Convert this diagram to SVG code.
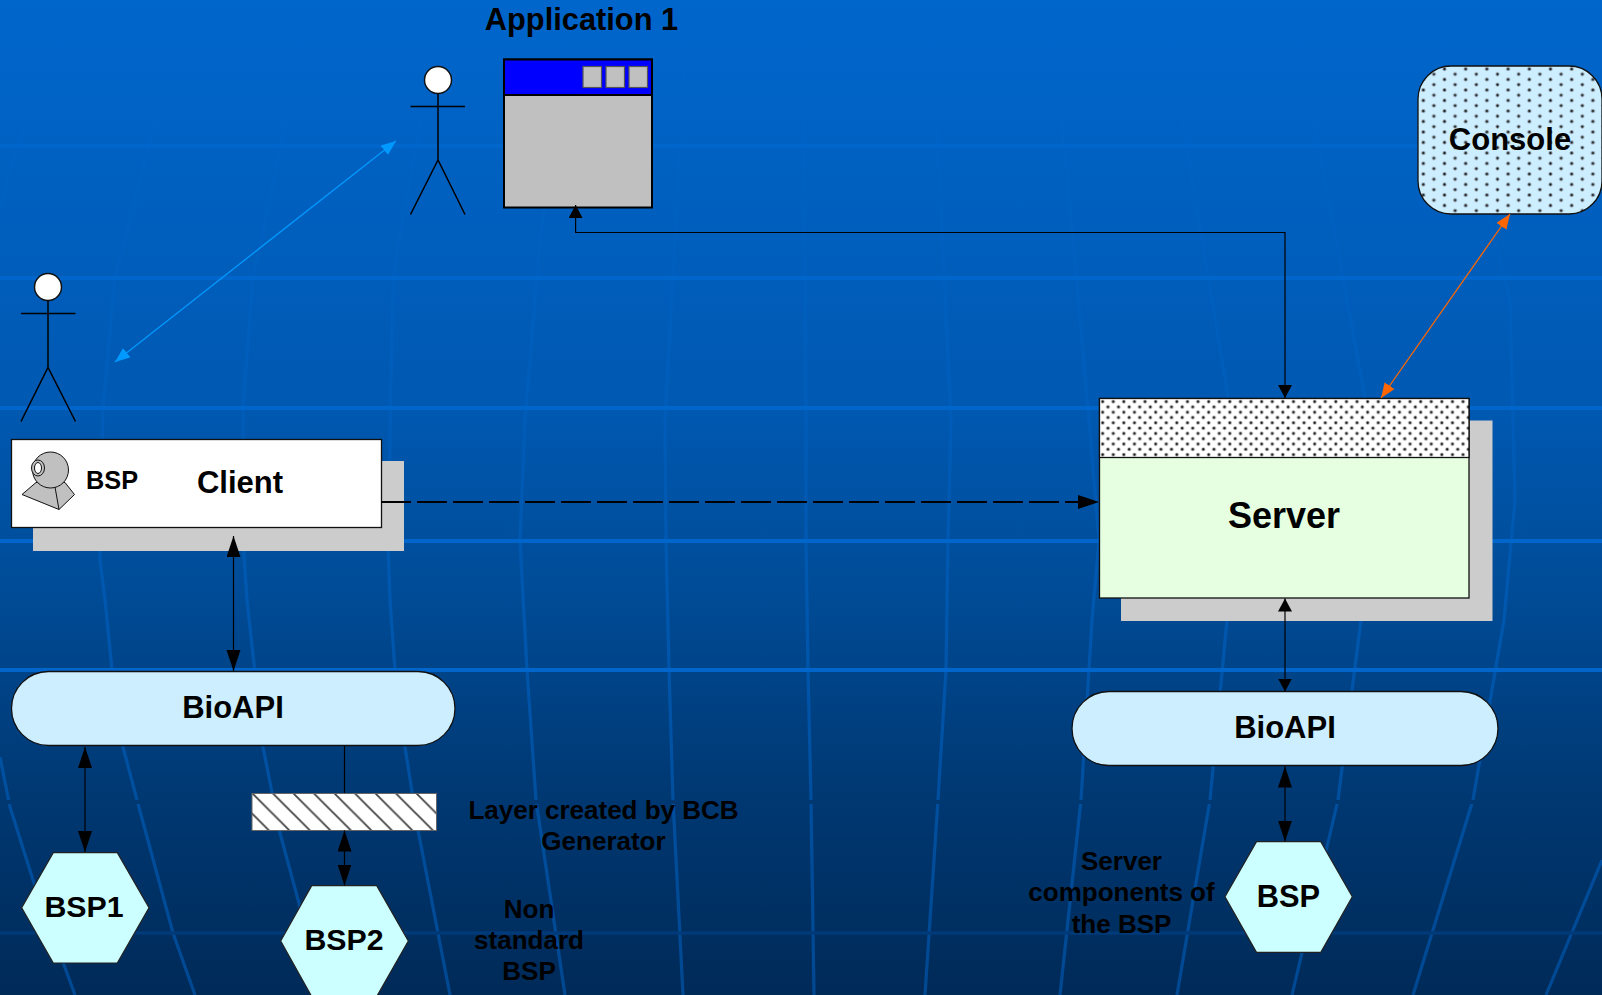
<svg xmlns="http://www.w3.org/2000/svg" width="1602" height="995" viewBox="0 0 1602 995">
<style>
text{font-family:"Liberation Sans",Arial,sans-serif;font-weight:bold;fill:#000;text-anchor:middle}
.hl{stroke:#0066cc;stroke-width:4;fill:none}
.vl{stroke:url(#vg);stroke-width:3.2;fill:none;stroke-linejoin:round}
.ln{stroke:#000;stroke-width:1.2;fill:none}
.nd{stroke:#111;stroke-width:1.3}
.act{stroke:#000;stroke-width:1.5;fill:none}
.shadow{fill:#cccccc}
.hex{fill:#ccffff;stroke:#222;stroke-width:1.2}
.api{fill:#cceeff;stroke:#111;stroke-width:1.3}
.btn{fill:#c0c0c0;stroke:#555;stroke-width:1.2}
</style>
<defs>
<linearGradient id="bg" gradientUnits="userSpaceOnUse" x1="0" y1="0" x2="0" y2="995">
<stop offset="0" stop-color="#0066cc"/><stop offset=".4" stop-color="#0059b2"/><stop offset=".6" stop-color="#004b96"/><stop offset=".8" stop-color="#003872"/><stop offset="1" stop-color="#002a58"/>
</linearGradient>
<linearGradient id="vg" gradientUnits="userSpaceOnUse" x1="0" y1="0" x2="0" y2="995">
<stop offset="0" stop-color="#0066cc" stop-opacity=".1"/><stop offset=".4" stop-color="#0066cc" stop-opacity=".3"/><stop offset=".65" stop-color="#0066cc" stop-opacity=".5"/><stop offset="1" stop-color="#0066cc" stop-opacity=".5"/>
</linearGradient>
<marker id="big" markerUnits="userSpaceOnUse" markerWidth="22" markerHeight="15" refX="21" refY="7" orient="auto-start-reverse"><path d="M0 0L21 7L0 14Z" fill="#000"/></marker>
<marker id="small" markerUnits="userSpaceOnUse" markerWidth="14" markerHeight="15" refX="13" refY="7" orient="auto-start-reverse"><path d="M0 0L13 7L0 14Z" fill="#000"/></marker>
<marker id="blue" markerUnits="userSpaceOnUse" markerWidth="16" markerHeight="13" refX="15" refY="6" orient="auto-start-reverse"><path d="M0 0L15 6L0 12Z" fill="#0099ff"/></marker>
<marker id="orange" markerUnits="userSpaceOnUse" markerWidth="16" markerHeight="13" refX="15" refY="6" orient="auto-start-reverse"><path d="M0 0L15 6L0 12Z" fill="#ff6600"/></marker>
<pattern id="dotsS" patternUnits="userSpaceOnUse" x="1100" y="399" width="10.6" height="10.6">
<rect width="10.6" height="10.6" fill="#fff"/><circle cx="2.65" cy="2.65" r="2" fill="#aaa"/><circle cx="7.95" cy="7.95" r="2" fill="#aaa"/><circle cx="2.65" cy="2.65" r="1.1" fill="#111"/><circle cx="7.95" cy="7.95" r="1.1" fill="#111"/>
</pattern>
<pattern id="dotsC" patternUnits="userSpaceOnUse" x="1418" y="66" width="21.2" height="10.5">
<rect width="21.2" height="10.5" fill="#cceeff"/><circle cx="5.3" cy="3" r="2" fill="#8a9aa5"/><circle cx="15.9" cy="8.2" r="2" fill="#8a9aa5"/><circle cx="5.3" cy="3" r="1.1" fill="#111"/><circle cx="15.9" cy="8.2" r="1.1" fill="#111"/>
</pattern>
<pattern id="hatch" patternUnits="userSpaceOnUse" x="252" y="793" width="20.5" height="20.5">
<rect width="20.5" height="20.5" fill="#fff"/><path d="M-2 -2L22.5 22.5M-2 18.5L2 22.5M18.5 -2L22.5 2" stroke="#444" stroke-width="1.8" fill="none"/>
</pattern>
</defs>

<g id="background">
<rect width="1602" height="995" fill="url(#bg)"/>
<path class="vl" d="M0 207L25 120L73 17"/>
<path class="vl" d="M167 77L115 277L103 407L100 560L105 600L112 670L123 747L137 800L173 933L195 995"/>
<path class="vl" d="M310 10L253 277L243 407L243 540L247 600L263 747L280 833L300 907L330 995"/>
<path class="vl" d="M440 10L393 277L388 547L390 600L395 670L405 747L418 830L450 995"/>
<path class="vl" d="M570 10L540 240L525 420L520 540L527 670L536 800L565 995"/>
<path class="vl" d="M686 33L665 420L666 540L669 670L673 800L683 995"/>
<path class="vl" d="M803 33L806 420L806 540L808 670L811 800L814 995"/>
<path class="vl" d="M931 0L951 420L948 540L946 670L938 800L925 995"/>
<path class="vl" d="M1053 17L1089 420L1099 540L1092 620L1081 800L1060 995"/>
<path class="vl" d="M1165 17L1232 420L1240 540L1227 620L1210 800L1177 995"/>
<path class="vl" d="M1298 33L1369 420L1372 540L1361 620L1338 800L1292 995"/>
<path class="vl" d="M1440 17L1510 300L1515 500L1504 620L1473 800L1413 995"/>
<path class="vl" d="M1602 860L1546 995"/>
<path class="vl" d="M0 757L10 807L33 880L75 995"/>
<rect x="0" y="800" width="1602" height="4" fill="url(#bg)"/>
<path class="hl" d="M0 146H1602M0 278H1602M0 408H1602M0 541H1602M0 670H1602"/>
<path d="M0 933H1602" stroke="#003a78" stroke-width="3.5" fill="none"/>
</g>

<g id="actor-app"><circle cx="438" cy="80" r="13.5" fill="#fff" stroke="#111" stroke-width="1.5"/><path class="act" d="M438 93.500V160M410.500 106.500H465M410.500 214.500L438 160L465 214.500"/></g>
<g id="actor-client"><circle cx="48" cy="287" r="13.5" fill="#fff" stroke="#111" stroke-width="1.5"/><path class="act" d="M48 300.500V367.500M21 313.500H75.500M21 421.500L48 367.500L75.500 421.500"/></g>

<g id="app-window">
<text x="581.500" y="30" font-size="30.800">Application 1</text>
<rect x="504" y="59.500" width="148" height="148" fill="#c0c0c0" stroke="#000" stroke-width="2"/>
<rect x="504" y="59.500" width="148" height="35.500" fill="#0000ff" stroke="#000" stroke-width="2"/>
<rect class="btn" x="583" y="66.500" width="18.500" height="21"/><rect class="btn" x="606" y="66.500" width="18.500" height="21"/><rect class="btn" x="629" y="66.500" width="18.500" height="21"/>
</g>

<g id="console">
<rect x="1418" y="66" width="184" height="148" rx="33" ry="33" fill="url(#dotsC)" stroke="#111" stroke-width="1.3"/>
<text x="1510" y="150" font-size="31">Console</text>
</g>

<g id="client">
<rect class="shadow" x="33" y="461" width="371" height="90"/>
<rect class="nd" x="11.500" y="439.500" width="370" height="88" fill="#fff"/>
<g stroke="#111" stroke-width="1" fill="#c0c0c0">
<path d="M22 494.500L59 509.500L74.500 494.500L65 482.500L36 482.500Z"/>
<path d="M55 487L59 509.500" fill="none"/>
<circle cx="50.500" cy="470" r="18"/>
<ellipse cx="38" cy="468" rx="6.500" ry="8"/>
<ellipse cx="38" cy="468" rx="3.500" ry="5.500" fill="#fff"/>
</g>
<text x="112" y="488.500" font-size="25.300">BSP</text>
<text x="240" y="493" font-size="31">Client</text>
</g>

<g id="server">
<rect class="shadow" x="1121" y="420.500" width="371.500" height="200.500"/>
<rect class="nd" x="1099.500" y="398.500" width="369.500" height="199.500" fill="#e5ffe0"/>
<rect class="nd" x="1099.500" y="398.500" width="369.500" height="59" fill="url(#dotsS)"/>
<text x="1284" y="527.500" font-size="36">Server</text>
</g>

<g id="bioapi-client"><rect class="api" x="11.500" y="671.500" width="443.500" height="74" rx="37"/><text x="233" y="717.500" font-size="31">BioAPI</text></g>
<g id="bioapi-server"><rect class="api" x="1072" y="691.500" width="426" height="74" rx="37"/><text x="1285" y="737.500" font-size="31">BioAPI</text></g>

<g id="bcb-layer"><rect x="252" y="793.500" width="184.500" height="37" fill="url(#hatch)" stroke="#666" stroke-width="1"/></g>

<g id="bsp1"><path class="hex" d="M21.700 907.700L53.300 852.700H117.300L149 907.700L117.300 963H53.300Z"/><text x="84" y="917" font-size="30.300">BSP1</text></g>
<g id="bsp2"><path class="hex" d="M280.700 941L311.700 885.700H376.700L408.300 941L376.700 996.500H311.700Z"/><text x="344" y="950.300" font-size="30.300">BSP2</text></g>
<g id="bsp-server"><path class="hex" d="M1225 896.700L1256.500 841.700H1320.800L1352.300 896.700L1320.800 952.300H1256.500Z"/><text x="1288.500" y="906.500" font-size="30.800">BSP</text></g>

<g id="labels" font-size="26">
<text x="603.500" y="819">Layer created by BCB</text>
<text x="603.500" y="849.500">Generator</text>
<text x="529" y="918">Non</text>
<text x="529" y="949">standard</text>
<text x="529" y="980">BSP</text>
<text x="1121.500" y="870">Server</text>
<text x="1121.500" y="901">components of</text>
<text x="1121.500" y="932.500">the BSP</text>
</g>

<g id="connectors">
<line x1="115" y1="362" x2="396" y2="141" stroke="#0099ff" stroke-width="1.3" marker-start="url(#blue)" marker-end="url(#blue)"/>
<line x1="1510" y1="214" x2="1381" y2="398" stroke="#ff6600" stroke-width="1.3" marker-start="url(#orange)" marker-end="url(#orange)"/>
<path class="ln" d="M1285 398V232.500H575.600V205" marker-start="url(#small)" marker-end="url(#small)"/>
<line x1="381" y1="502" x2="1099" y2="502" stroke="#000" stroke-width="2" stroke-dasharray="30 6" marker-end="url(#big)"/>
<line class="ln" x1="233.500" y1="536" x2="233.500" y2="671" marker-start="url(#big)" marker-end="url(#big)"/>
<line class="ln" x1="85" y1="747" x2="85" y2="852" marker-start="url(#big)" marker-end="url(#big)"/>
<line class="ln" x1="344.500" y1="746" x2="344.500" y2="793"/>
<line class="ln" x1="344.500" y1="830.500" x2="344.500" y2="885.500" marker-start="url(#big)" marker-end="url(#big)"/>
<line class="ln" x1="1285" y1="598.500" x2="1285" y2="691.500" marker-start="url(#small)" marker-end="url(#small)"/>
<line class="ln" x1="1285" y1="766.500" x2="1285" y2="841.500" marker-start="url(#big)" marker-end="url(#big)"/>
</g>
</svg>
